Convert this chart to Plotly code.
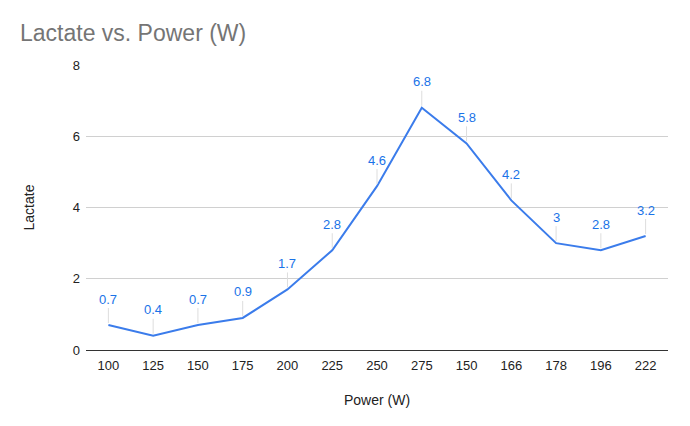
import plotly.graph_objects as go

power_labels = ["100", "125", "150", "175", "200", "225", "250", "275", "150", "166", "178", "196", "222"]
lactate = [0.7, 0.4, 0.7, 0.9, 1.7, 2.8, 4.6, 6.8, 5.8, 4.2, 3.0, 2.8, 3.2]
y_ticks = [0, 2, 4, 6, 8]

idx = list(range(len(power_labels)))
blue = "#3B7CEB"
label_blue = "#1A73E8"

fig = go.Figure()
fig.add_trace(go.Scatter(x=idx, y=lactate, mode="lines",
                         line=dict(color=blue, width=2), hoverinfo="skip"))

for i, v in zip(idx, lactate):
    fig.add_annotation(x=i, y=v, text=f"{v:g}", showarrow=True, arrowhead=0,
                       arrowwidth=1, arrowcolor="#dddddd", ax=0, ay=-26,
                       standoff=2,
                       font=dict(family="Liberation Sans, Arial", size=13, color=label_blue))

fig.update_layout(
    width=690, height=426,
    margin=dict(l=78, r=30, t=57, b=84),
    plot_bgcolor="white", paper_bgcolor="white",
    showlegend=False,
    font=dict(family="Liberation Sans, Arial", size=13, color="#222222"),
    title=dict(text="Lactate vs. Power (W)", x=12 / 690, xanchor="left", y=1 - 25 / 426, yanchor="middle",
               font=dict(size=23, color="#757575")),
    xaxis=dict(tickmode="array", tickvals=idx, ticktext=power_labels,
               range=[-0.5, len(idx) - 0.5], showgrid=False, zeroline=False,
               showline=True, linecolor="#333333", linewidth=1, ticks="",
               ticklabelstandoff=3,
               title=dict(text="Power (W)", font=dict(size=14, color="#222222"), standoff=23)),
    yaxis=dict(tickvals=y_ticks, range=[0, 8], showgrid=True, gridcolor="#d0d0d0",
               zeroline=False, showline=False, ticks="", ticklen=0,
               ticklabelstandoff=5,
               title=dict(text="Lactate", font=dict(size=14, color="#222222"), standoff=34)),
)
fig.write_html("out.html")
